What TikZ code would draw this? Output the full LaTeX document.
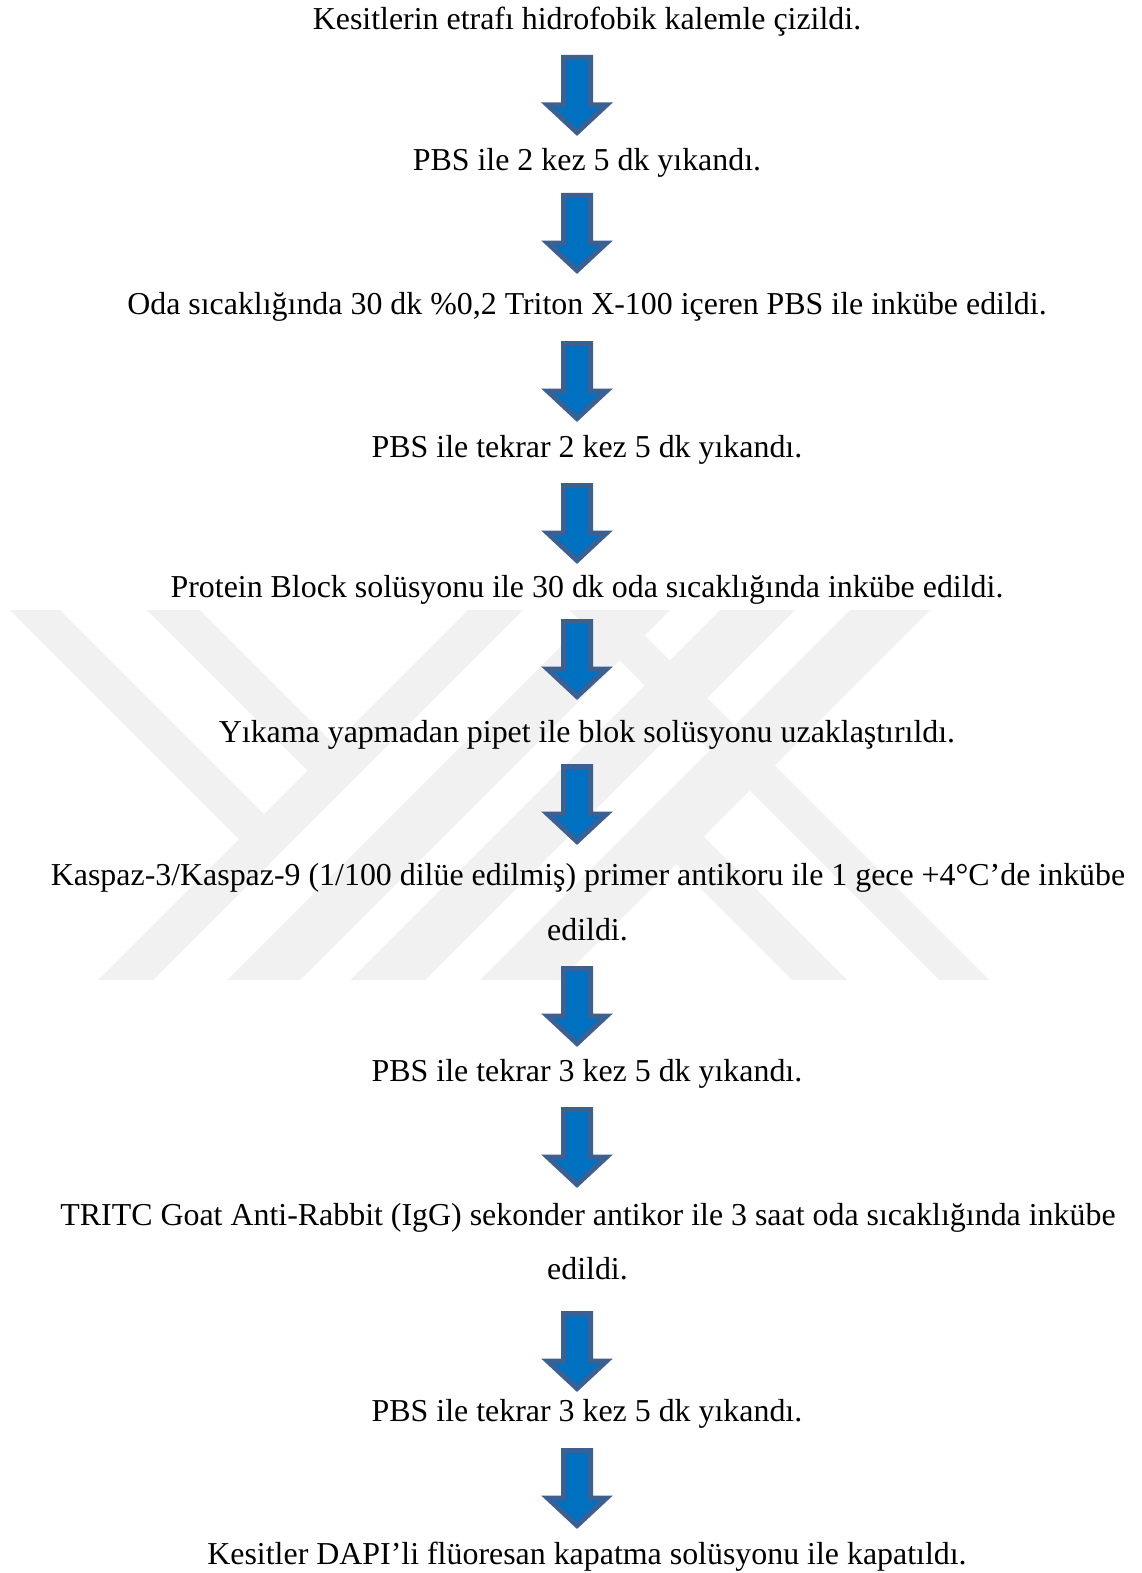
\documentclass[tikz,border=0pt]{standalone}
\usepackage{fontspec}
\setmainfont{Liberation Serif}
\definecolor{arrfill}{RGB}{0,112,192}
\definecolor{arredge}{RGB}{60,96,146}
\definecolor{wmark}{RGB}{241,241,241}
\begin{document}
\begin{tikzpicture}[x=1pt,y=-1pt,
  stepline/.style={anchor=base,inner sep=0pt,font=\fontsize{31.9}{55}\selectfont},
  blockarrow/.style={fill=arrfill,draw=arredge,line width=5pt,line join=miter},
  wm/.style={fill=wmark,draw=none}]
\useasboundingbox (0,0) rectangle (1142,1573);
\fill[white] (0,0) rectangle (1142,1573);
% watermark
\begin{scope}
\clip (0,610) rectangle (1142,980);
\fill[wm] (468,610) -- (523,610) -- (153,980) -- (98,980) -- cycle;
\fill[wm] (597,610) -- (670,610) -- (300,980) -- (227,980) -- cycle;
\fill[wm] (720,610) -- (795,610) -- (425,980) -- (350,980) -- cycle;
\fill[wm] (850,610) -- (930,610) -- (560,980) -- (480,980) -- cycle;
\fill[wm] (569,610) -- (619,610) -- (989,980) -- (939,980) -- cycle;
\fill[wm] (10,610) -- (60,610) -- (291.5,841.5) -- (266.5,866.5) -- cycle;
\fill[wm] (147,610) -- (200,610) -- (361.5,771.5) -- (335,798) -- cycle;
\fill[wm] (663.5,796.5) -- (847,980) -- (792,980) -- (636,824) -- cycle;
\end{scope}
% arrows
\foreach \t in {55,193,341,483,619,764,966,1107,1311,1448} {
  \filldraw[blockarrow] (563.5,\t+2.5) -- (590.5,\t+2.5) -- (590.5,\t+50) -- (606.5,\t+50)
    -- (577,\t+77.5) -- (547.5,\t+50) -- (563.5,\t+50) -- cycle;
}
% texts
\node[stepline] (s1) at (587,29.5) {Kesitlerin etrafı hidrofobik kalemle çizildi.};
\node[stepline] (s2) at (587,171) {PBS ile 2 kez 5 dk yıkandı.};
\node[stepline] (s3) at (587,314.5) {Oda sıcaklığında 30 dk \%0,2 Triton X-100 içeren PBS ile inkübe edildi.};
\node[stepline] (s4) at (587,457) {PBS ile tekrar 2 kez 5 dk yıkandı.};
\node[stepline] (s5) at (587,597.5) {Protein Block solüsyonu ile 30 dk oda sıcaklığında inkübe edildi.};
\node[stepline] (s6) at (587,742) {Yıkama yapmadan pipet ile blok solüsyonu uzaklaştırıldı.};
\node[stepline] (s7) at (588,885) {Kaspaz-3/Kaspaz-9 (1/100 dilüe edilmiş) primer antikoru ile 1 gece +4°C’de inkübe};
\node[stepline] (s7b) at (587.5,940) {edildi.};
\node[stepline] (s8) at (587,1081.5) {PBS ile tekrar 3 kez 5 dk yıkandı.};
\node[stepline] (s9) at (588,1225.5) {TRITC Goat Anti-Rabbit (IgG) sekonder antikor ile 3 saat oda sıcaklığında inkübe};
\node[stepline] (s9b) at (587.5,1279.5) {edildi.};
\node[stepline] (s10) at (587,1421.5) {PBS ile tekrar 3 kez 5 dk yıkandı.};
\node[stepline] (s11) at (587,1564.5) {Kesitler DAPI’li flüoresan kapatma solüsyonu ile kapatıldı.};
\end{tikzpicture}
\end{document}
